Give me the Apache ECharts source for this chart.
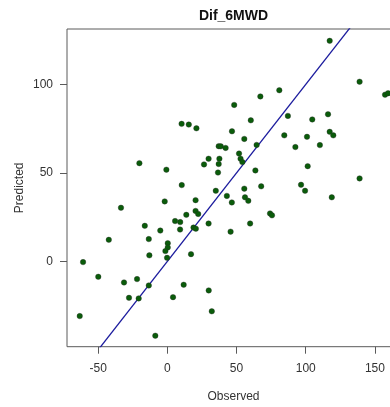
<!DOCTYPE html>
<html>
<head>
<meta charset="utf-8">
<script src="https://cdn.jsdelivr.net/npm/echarts@6/dist/echarts.min.js"></script>
<style>
  html, body { margin: 0; padding: 0; background: #fff; }
  #chart { width: 390px; height: 407px; }
</style>
</head>
<body>
<div id="chart"></div>
<script>
// Observed vs predicted change in 6-minute walk distance
const observed = [
  117.3, 138.9, 157.3, 159.5, 80.9, 67.2, 48.3, 87.1, 104.7, 116.1,
  60.3, 10.3, 15.5, 21.0, 46.7, 84.5, 100.9, 117.3, 119.9, 55.6,
  37.1, 38.6, 42.1, 64.5, 92.5, 110.2, -20.2, 29.8, 37.6, 26.5,
  37.1, 51.8, 52.9, 54.2, -0.7, 36.6, 63.6, 101.4, 138.9, 10.4,
  35.0, 55.6, 67.8, 96.6, 99.5, 43.0, 56.1, 58.5, 118.8, 20.4,
  46.6, -1.9, -33.5, 20.4, 22.3, 13.7, 5.6, 9.3, -16.3, 29.8,
  59.8, 74.2, 75.6, 18.9, 20.6, 9.2, -5.1, 45.7, -42.3, -13.4,
  0.3, 0.3, -1.4, -13.0, 17.1, -0.2, -60.9, -49.9, -31.3, -21.9,
  -13.4, 11.8, 29.9, -27.7, -20.7, 4.1, 32.1, -63.3, -8.7
];
const predicted = [
  124.6, 101.5, 94.2, 95.0, 96.7, 93.2, 88.4, 82.2, 80.2, 83.1,
  79.7, 77.7, 77.3, 75.2, 73.5, 71.2, 70.4, 73.2, 71.2, 69.2,
  65.1, 65.0, 64.1, 65.8, 64.6, 65.7, 55.5, 58.0, 58.0, 54.8,
  55.0, 60.9, 58.0, 56.1, 51.8, 50.2, 51.4, 53.8, 46.9, 43.1,
  39.9, 41.1, 42.4, 43.3, 39.9, 37.0, 36.2, 34.2, 36.2, 34.6,
  33.3, 33.9, 30.3, 28.5, 26.8, 26.3, 22.8, 22.2, 20.1, 21.4,
  21.4, 27.1, 26.0, 19.1, 18.5, 18.0, 17.4, 16.8, 12.2, 12.6,
  10.3, 7.9, 5.8, 3.4, 4.1, 2.0, -0.4, -8.7, -11.9, -10.0,
  -13.6, -13.2, -16.4, -20.6, -20.9, -20.2, -28.2, -30.9, -42.0
];
// Identity reference line (predicted = observed), clipped to the plot box
const identityLine = [-100, 200];

const xTicks = [-50, 0, 50, 100, 150];
const yTicks = [0, 50, 100];
const xRange = [-72.5, 168.1];
const yRange = [-48.2, 131.3];

const points = observed.map((v, i) => [v, predicted[i]]);
const lineData = identityLine.map(v => [v, v]);

const FONT = '"Liberation Sans", Arial, sans-serif';
const chart = echarts.init(document.getElementById('chart'), null, { renderer: 'canvas' });

chart.setOption({
  animation: false,
  backgroundColor: '#ffffff',
  textStyle: { fontFamily: FONT },
  grid: {
    left: 67, right: -10, top: 29, bottom: 60.3,
    outerBoundsMode: 'none', containLabel: false,
    show: true, borderColor: '#5a5a5a', borderWidth: 1, backgroundColor: 'transparent'
  },
  graphic: [{
    type: 'text', x: 233.5, y: 16,
    style: {
      text: 'Dif_6MWD', fill: '#111', font: 'bold 14px ' + FONT,
      textAlign: 'center', textVerticalAlign: 'middle'
    }
  }],
  xAxis: {
    type: 'value', min: xRange[0], max: xRange[1],
    name: 'Observed', nameLocation: 'middle', nameGap: 44, nameMoveOverlap: false,
    nameTextStyle: { color: '#333', fontSize: 12, fontFamily: FONT },
    axisLine: { show: false, onZero: false },
    axisTick: { show: true, inside: false, length: 7, customValues: xTicks, lineStyle: { color: '#5a5a5a' } },
    axisLabel: { customValues: xTicks, color: '#333', fontSize: 12, margin: 16, fontFamily: FONT },
    splitLine: { show: false }
  },
  yAxis: {
    type: 'value', min: yRange[0], max: yRange[1],
    name: 'Predicted', nameLocation: 'middle', nameGap: 41, nameRotate: 90, nameMoveOverlap: false,
    nameTextStyle: { color: '#333', fontSize: 12, fontFamily: FONT },
    axisLine: { show: false, onZero: false },
    axisTick: { show: true, inside: false, length: 7, customValues: yTicks, lineStyle: { color: '#5a5a5a' } },
    axisLabel: { customValues: yTicks, color: '#333', fontSize: 12, margin: 14, fontFamily: FONT },
    splitLine: { show: false }
  },
  series: [
    {
      type: 'line', data: lineData, clip: true, symbol: 'none', silent: true,
      lineStyle: { color: '#1c1c9e', width: 1.3 }, z: 3
    },
    {
      type: 'scatter', data: points, symbol: 'circle', symbolSize: 5.5, clip: true,
      itemStyle: { color: '#0a5c0a', borderColor: 'rgba(40,40,40,0.6)', borderWidth: 0.6, opacity: 1 },
      z: 4
    }
  ]
});
</script>
</body>
</html>
